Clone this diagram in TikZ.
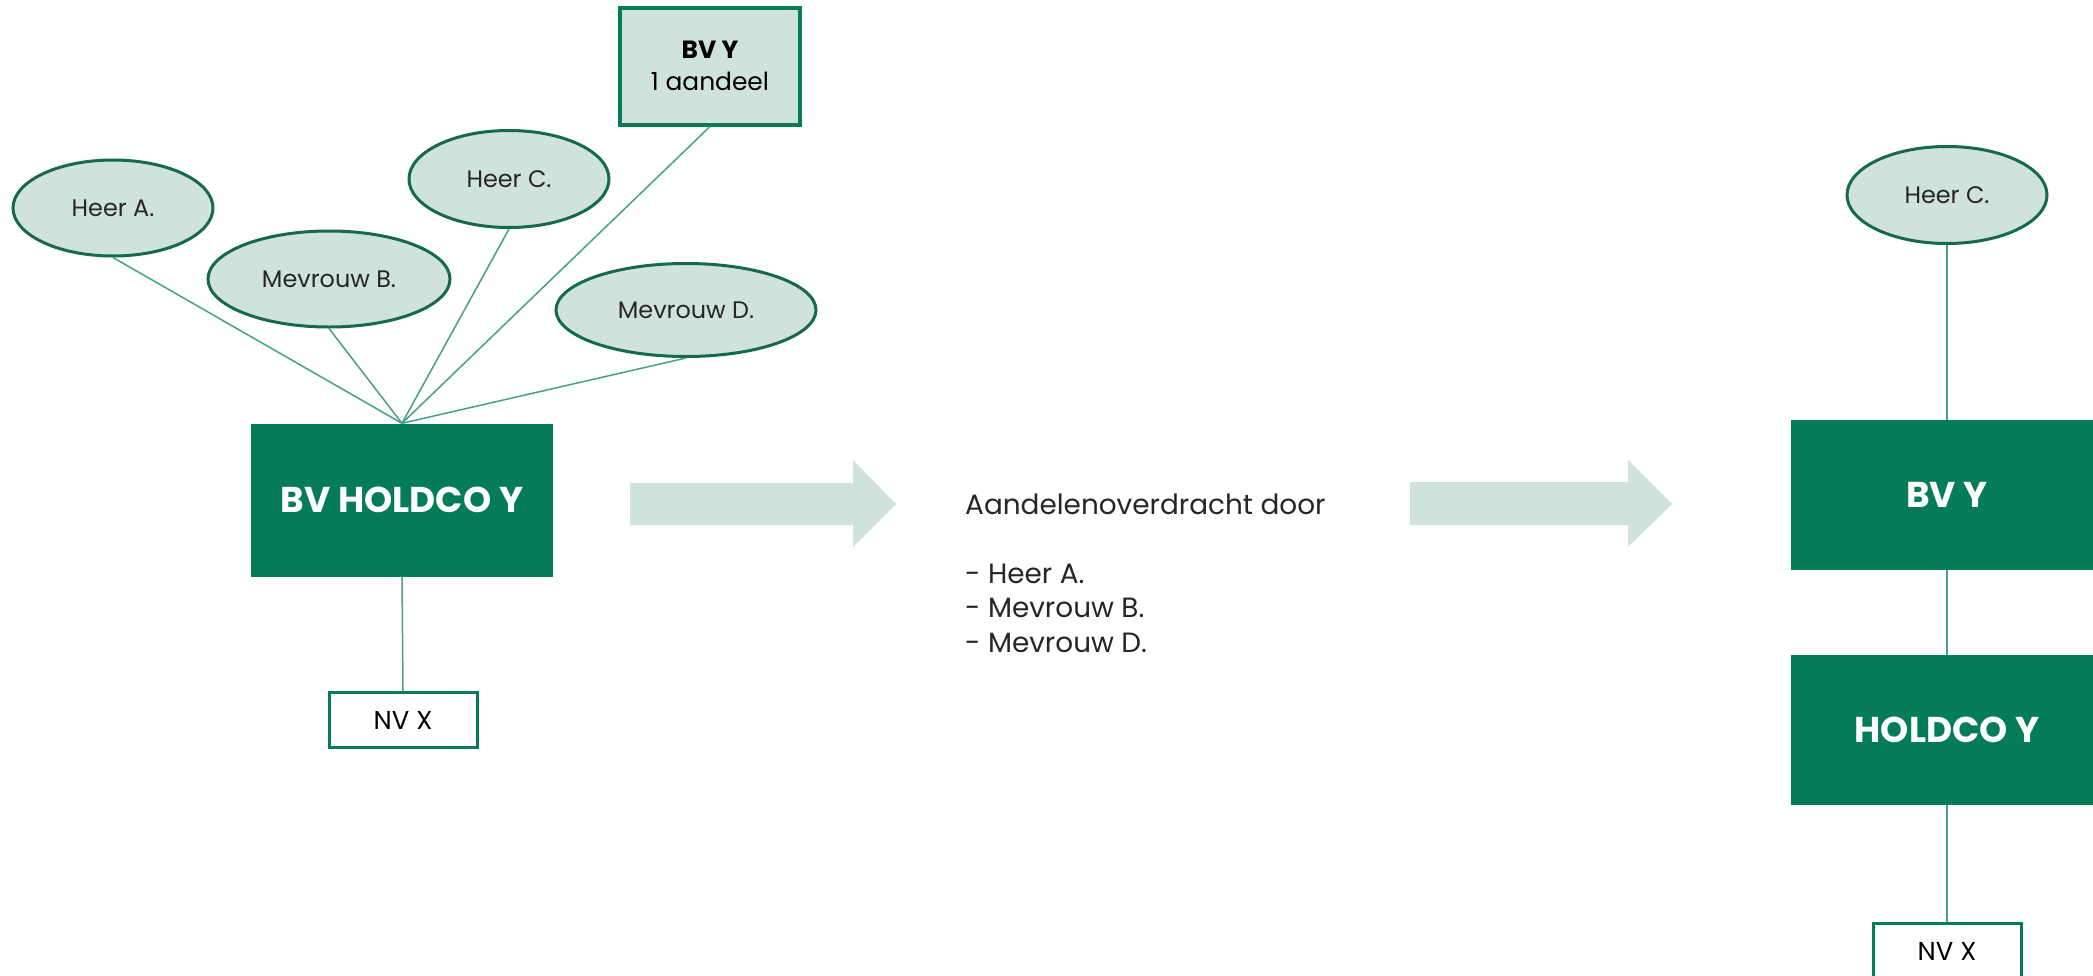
\documentclass[tikz,border=0pt]{standalone}
\usepackage{fontspec}
\setmainfont{Poppins}
\usetikzlibrary{shapes.geometric}

\definecolor{darkgreen}{HTML}{037C57}
\definecolor{rimgreen}{HTML}{17694C}
\definecolor{palegreen}{HTML}{CFE3DC}
\definecolor{linkgreen}{HTML}{46A183}

\tikzset{
  owner/.style={ellipse, draw=rimgreen, line width=3bp, fill=palegreen,
    inner sep=0pt, font=\fontsize{24}{28}\selectfont, text=black!85},
  company/.style={rectangle, fill=darkgreen, inner sep=0pt, text=white,
    font=\fontsize{36}{40}\selectfont\bfseries},
  plainbox/.style={rectangle, draw=darkgreen, line width=3bp, fill=white,
    inner sep=0pt, minimum width=148bp, minimum height=55bp,
    font=\fontsize{26}{30}\selectfont},
  sharebox/.style={rectangle, draw=darkgreen, line width=4bp, fill=palegreen,
    inner sep=0pt, align=center, font=\fontsize{25}{32}\selectfont},
  link/.style={draw=linkgreen, line width=1.5bp},
  bigarrow/.style={fill=palegreen, draw=none},
  caption/.style={anchor=base west, inner sep=0pt, text=black!85,
    font=\fontsize{28}{32}\selectfont}
}

\begin{document}
\begin{tikzpicture}[x=1bp, y=-1bp]
  \clip (0,0) rectangle (2093,976);
  \fill[white] (0,0) rectangle (2093,976);

  % ---- structure before the transfer ----
  \node[company, minimum width=302bp, minimum height=153bp] (holdco) at (402,500) {BV HOLDCO Y};
  \node[plainbox] (nvx) at (403,720) {NV X};

  \node[owner, minimum width=200bp, minimum height=96bp] (heerA) at (113,208) {Heer A.};
  \node[owner, minimum width=242bp, minimum height=96bp] (mevrB) at (329,279) {Mevrouw B.};
  \node[owner, minimum width=200bp, minimum height=97bp] (heerC) at (509,179) {Heer C.};
  \node[owner, minimum width=260bp, minimum height=93bp] (mevrD) at (686,310) {Mevrouw D.};
  \node[sharebox, minimum width=180bp, minimum height=117bp] (bvy) at (710,66)
    {{\bfseries BV Y}\\ 1 aandeel};

  \coordinate (hub) at (holdco.north);
  \foreach \o in {heerA, mevrB, heerC, mevrD, bvy}
    \draw[link] (\o.south) -- (hub);
  \draw[link] (holdco.south) -- (nvx.north);

  % ---- transfer arrows and caption ----
  \fill[bigarrow] (630,483) -- (853,483) -- (853,460) -- (896,504)
    -- (853,547) -- (853,525) -- (630,525) -- cycle;
  \fill[bigarrow] (1410,482) -- (1628,482) -- (1628,460) -- (1672,504)
    -- (1628,547) -- (1628,525) -- (1410,525) -- cycle;

  \node[caption] (title) at (965,514) {Aandelenoverdracht door};
  \node[caption] (l1) at (965,583) {- Heer A.};
  \node[caption] (l2) at (965,617) {- Mevrouw B.};
  \node[caption] (l3) at (965,652) {- Mevrouw D.};

  % ---- structure after the transfer ----
  \node[owner, minimum width=200bp, minimum height=97bp] (heerC2) at (1947,195) {Heer C.};
  \node[company, minimum width=312bp, minimum height=150bp] (bvy2) at (1947,495) {BV Y};
  \node[company, minimum width=312bp, minimum height=150bp] (holdco2) at (1947,730) {HOLDCO Y};
  \node[plainbox] (nvx2) at (1947,951) {NV X};

  \draw[link] (heerC2.south) -- (bvy2.north);
  \draw[link] (bvy2.south) -- (holdco2.north);
  \draw[link] (holdco2.south) -- (nvx2.north);
\end{tikzpicture}
\end{document}
